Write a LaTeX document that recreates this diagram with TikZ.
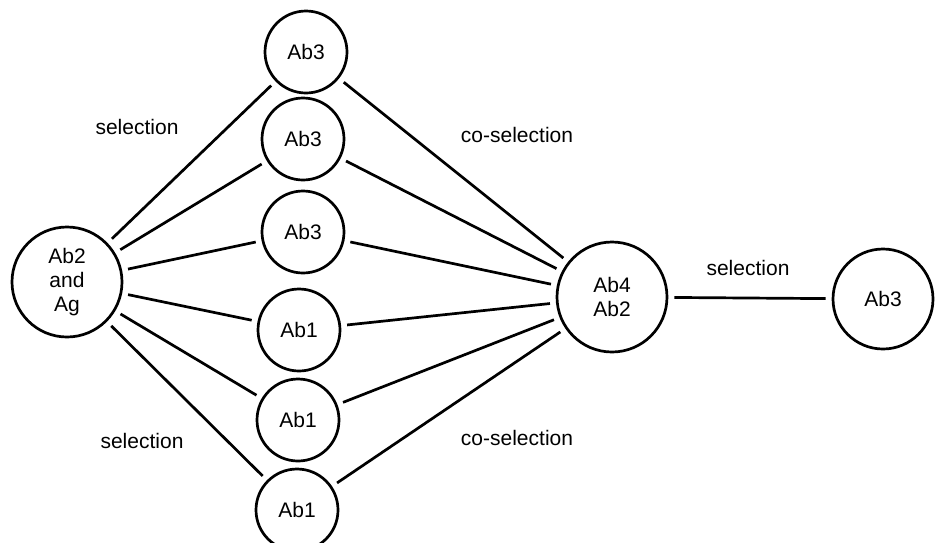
\documentclass[tikz,border=0pt]{standalone}
\usepackage{fontspec}
\setmainfont{Liberation Sans}
\begin{document}
\begin{tikzpicture}[x=1pt,y=-1pt,
  ball/.style={circle,draw,line width=2.7pt,inner sep=0pt,align=center,font=\fontsize{21}{24}\selectfont},
  bigball/.style={ball,minimum size=110pt},
  midball/.style={ball,minimum size=82pt},
  link/.style={line width=2.7pt,shorten >=6pt,shorten <=6pt},
  lab/.style={font=\fontsize{21}{24}\selectfont}]
\useasboundingbox (0,0) rectangle (936,542);
\node[bigball] (L) at (67,282) {Ab2\\and\\Ag};
\node[midball] (m1) at (306,52) {Ab3};
\node[midball] (m2) at (303,139) {Ab3};
\node[midball] (m3) at (303,232) {Ab3};
\node[midball] (m4) at (299,330) {Ab1};
\node[midball] (m5) at (298,420) {Ab1};
\node[midball] (m6) at (297,510) {Ab1};
\node[bigball] (R) at (612,297) {Ab4\\Ab2};
\node[ball,minimum size=100pt] (F) at (883,299) {Ab3};
\foreach \m in {m1,m2,m3,m4,m5,m6}{
  \draw[link] (L) -- (\m);
  \draw[link] (\m) -- (R);
}
\draw[link] (R) -- (F);
\node[lab] (s1) at (137,127) {selection};
\node[lab] (s2) at (142,441) {selection};
\node[lab] (c1) at (517,135) {co-selection};
\node[lab] (c2) at (517,438) {co-selection};
\node[lab] (s3) at (748,268) {selection};
\end{tikzpicture}
\end{document}
